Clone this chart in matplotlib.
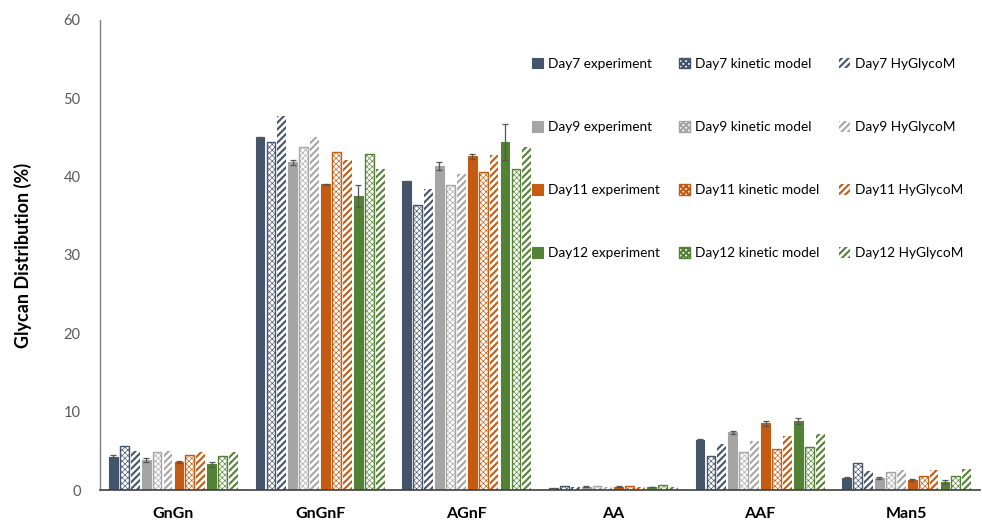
import matplotlib
matplotlib.use("Agg")
import matplotlib.pyplot as plt
import numpy as np

plt.rcParams['font.family'] = ['Lato', 'DejaVu Sans']

categories = ["GnGn", "GnGnF", "AGnF", "AA", "AAF", "Man5"]
days = ["Day7", "Day9", "Day11", "Day12"]

# experiment values and errors
exp_d7 = [4.25, 45.0, 39.4, 0.2, 6.38, 1.6]
exp_d9 = [3.85, 41.8, 41.3, 0.45, 7.36, 1.53]
exp_d11 = [3.6, 39.0, 42.6, 0.45, 8.5, 1.3]
exp_d12 = [3.3, 37.5, 44.4, 0.4, 8.8, 1.06]
err_d7 = [0.2, 0.1, 0.1, 0.05, 0.1, 0.1]
err_d9 = [0.3, 0.3, 0.5, 0.05, 0.15, 0.15]
err_d11 = [0.15, 0.1, 0.3, 0.05, 0.3, 0.1]
err_d12 = [0.3, 1.4, 2.3, 0.05, 0.35, 0.25]

# kinetic model
kin_d7 = [5.66, 44.4, 36.4, 0.5, 4.34, 3.5]
kin_d9 = [4.9, 43.75, 38.9, 0.55, 4.9, 2.3]
kin_d11 = [4.5, 43.15, 40.6, 0.55, 5.23, 1.8]
kin_d12 = [4.34, 42.9, 41.0, 0.6, 5.45, 1.8]

# HyGlycoM
hy_d7 = [5.0, 47.7, 38.4, 0.4, 5.87, 2.4]
hy_d9 = [4.95, 45.1, 40.3, 0.35, 6.3, 2.5]
hy_d11 = [4.9, 42.1, 42.8, 0.4, 6.94, 2.55]
hy_d12 = [4.8, 41.0, 43.75, 0.45, 7.1, 2.64]

colors = ["#44546a", "#a5a5a5", "#c55a11", "#548235"]

exp_all = [exp_d7, exp_d9, exp_d11, exp_d12]
err_all = [err_d7, err_d9, err_d11, err_d12]
kin_all = [kin_d7, kin_d9, kin_d11, kin_d12]
hy_all = [hy_d7, hy_d9, hy_d11, hy_d12]

plt.rcParams['hatch.linewidth'] = 1.5

fig = plt.figure(figsize=(9.82, 5.23), dpi=100)
ax = fig.add_axes([0.102, 0.063, 0.896, 0.899])

x = np.arange(len(categories))
slot = 0.0745
bw = 0.06


def set_hlw(bars, lw):
    for p in bars:
        try:
            p.set_hatch_linewidth(lw)
        except Exception:
            pass


exp_handles, kin_handles, hy_handles = [], [], []
for d in range(4):
    c = colors[d]
    i_exp = d * 3
    i_kin = d * 3 + 1
    i_hy = d * 3 + 2
    off = lambda i: (i - 5.5) * slot
    h1 = ax.bar(x + off(i_exp), exp_all[d], bw, color=c, edgecolor=c, linewidth=0.8,
                label=f"{days[d]} experiment", zorder=2)
    ax.errorbar(x + off(i_exp), exp_all[d], yerr=err_all[d], fmt='none',
                ecolor="#555555", elinewidth=0.9, capsize=2.5, capthick=0.9, zorder=3)
    h2 = ax.bar(x + off(i_kin), kin_all[d], bw, color="white", edgecolor=c, linewidth=1.0,
                hatch='xxxxxx', label=f"{days[d]} kinetic model", zorder=2)
    set_hlw(h2, 0.45)
    h3 = ax.bar(x + off(i_hy), hy_all[d], bw, color="white", edgecolor=c, linewidth=0,
                hatch='/////', label=f"{days[d]} HyGlycoM", zorder=2)
    set_hlw(h3, 1.5)
    exp_handles.append(h1)
    kin_handles.append(h2)
    hy_handles.append(h3)

ax.set_xlim(-0.5, 5.5)
ax.set_ylim(0, 60)
ax.set_yticks(range(0, 61, 10))
ax.set_xticks(x)
ax.set_xticklabels(categories, fontsize=11.5, fontweight='bold', color="#000000")
ax.tick_params(axis='y', length=0, labelsize=10.5, labelcolor="#595959", pad=14)
ax.tick_params(axis='x', length=0, pad=12)
for s in ["top", "right"]:
    ax.spines[s].set_visible(False)
ax.spines["left"].set_color("#7f7f7f")
ax.spines["left"].set_linewidth(1.0)
ax.spines["bottom"].set_color("#404040")
ax.spines["bottom"].set_linewidth(1.2)
ax.set_ylabel("Glycan Distribution (%)", fontsize=13, fontweight='bold', labelpad=23)

handles = exp_handles + kin_handles + hy_handles
labels = [h.get_label() for h in handles]
leg = ax.legend(handles, labels, ncol=3, loc='upper right', bbox_to_anchor=(0.995, 0.945),
                frameon=False, fontsize=9.8, labelspacing=3.75, handlelength=0.8,
                handleheight=0.8, handletextpad=0.4, columnspacing=1.4)

fig.savefig("out.png", dpi=100)
